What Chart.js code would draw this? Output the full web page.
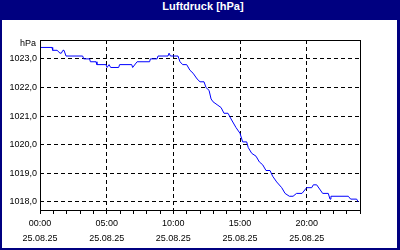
<!DOCTYPE html>
<html>
<head>
<meta charset="utf-8">
<title>Luftdruck [hPa]</title>
<script src="https://cdn.jsdelivr.net/npm/chart.js@4/dist/chart.umd.min.js"></script>
<style>
    html, body { margin: 0; padding: 0; background: #fff; }
    #frame { position: relative; width: 400px; height: 250px; background: #000080; overflow: hidden; }
    #title { position: absolute; left: 3px; top: 0; width: 400px; height: 20px; line-height: 18px;
             text-align: center; color: #fff; font: bold 11px "Liberation Sans", Arial, sans-serif; }
    #panel { position: absolute; left: 2px; top: 20px; right: 3px; bottom: 2px; background: #fff; }
    #chart { position: absolute; left: 0; top: 0; }
</style>
</head>
<body>
<div id="frame">
    <div id="title">Luftdruck [hPa]</div>
    <div id="panel"></div>
    <canvas id="chart" width="400" height="250"></canvas>
</div>
<script>
// Measurement times (hours since 25.08.25 00:00) and air pressure in hPa
const hours = [
    0, 0.9, 0.95, 1.28, 1.5, 1.6, 1.72, 1.8, 1.95, 3.2,
    3.28, 3.72, 3.78, 4.2, 4.27, 4.95, 5.03, 5.18, 5.3, 5.9,
    5.97, 6.88, 6.95, 7.28, 8.22, 8.28, 8.78, 8.85, 9.6, 9.68,
    9.78, 10.35, 10.5, 10.7, 11.0, 11.25, 11.48, 11.78, 12.0, 12.3,
    12.45, 12.68, 12.83, 12.98, 13.28, 13.58, 13.8, 14.1, 14.33, 14.7,
    15.0, 15.2, 15.5, 15.62, 15.88, 16.2, 16.45, 16.7, 16.95, 17.25,
    17.45, 17.75, 18.13, 18.38, 18.7, 18.98, 19.24, 19.65, 20.0, 20.38,
    20.5, 20.75, 21.2, 21.62, 21.75, 21.82, 23.12, 23.3, 23.75, 23.87, 23.9
];
const pressure = [
    1023.4, 1023.4, 1023.3, 1023.3, 1023.2, 1023.2, 1023.3, 1023.3, 1023.1, 1023.1,
    1023.0, 1023.0, 1022.9, 1022.9, 1022.8, 1022.8, 1022.7, 1022.8, 1022.7, 1022.7,
    1022.8, 1022.8, 1022.7, 1022.9, 1022.9, 1023.0, 1023.0, 1023.1, 1023.1, 1023.2,
    1023.1, 1023.1, 1022.9, 1022.8, 1022.8, 1022.6, 1022.5, 1022.3, 1022.2, 1022.2,
    1022.0, 1021.9, 1021.6, 1021.5, 1021.4, 1021.3, 1021.1, 1021.1, 1020.9, 1020.6,
    1020.4, 1020.1, 1020.1, 1019.9, 1019.7, 1019.6, 1019.4, 1019.3, 1019.1, 1019.1,
    1018.9, 1018.7, 1018.5, 1018.3, 1018.2, 1018.2, 1018.3, 1018.3, 1018.5, 1018.5,
    1018.6, 1018.6, 1018.3, 1018.3, 1018.1, 1018.2, 1018.2, 1018.1, 1018.1, 1018.0, 1018.0
];

const yTicks = [1018, 1019, 1020, 1021, 1022, 1023];
const hourTicks = [0, 1, 2, 3, 4, 5, 6, 7, 8, 9, 10, 11, 12, 13, 14, 15, 16, 17, 18, 19, 20, 21, 22, 23, 24];
const labelHours = [0, 5, 10, 15, 20];
const dateLabel = '25.08.25';
const unitLabel = 'hPa';

const labelFont = { family: '"Liberation Sans", Arial, sans-serif', size: 9 };

// black frame round the plot and the unit above the y axis
const plotFrame = {
    id: 'plotFrame',
    afterDatasetsDraw(chart) {
        const { ctx, chartArea: a } = chart;
        ctx.save();
        ctx.strokeStyle = '#000';
        ctx.lineWidth = 1;
        ctx.strokeRect(Math.round(a.left) + 0.5, Math.round(a.top) + 0.5,
            Math.round(a.right - a.left), Math.round(a.bottom - a.top));
        ctx.font = '9px "Liberation Sans", Arial, sans-serif';
        ctx.fillStyle = '#000';
        ctx.textAlign = 'right';
        ctx.textBaseline = 'middle';
        ctx.fillText(unitLabel, a.left - 4, a.top + 4);
        ctx.restore();
    }
};

const pad2 = n => (n < 10 ? '0' : '') + n;

new Chart(document.getElementById('chart').getContext('2d'), {
    type: 'line',
    data: {
        datasets: [{
            label: 'Luftdruck',
            data: hours.map((h, i) => ({ x: h, y: pressure[i] })),
            borderColor: '#0000ff',
            borderWidth: 1,
            pointRadius: 0,
            tension: 0,
            fill: false
        }]
    },
    options: {
        responsive: false,
        animation: false,
        events: [],
        layout: { padding: { left: 0, top: 40, right: 40, bottom: 0 } },
        plugins: {
            legend: { display: false },
            title: { display: false },
            tooltip: { enabled: false }
        },
        scales: {
            x: {
                type: 'linear',
                min: 0,
                max: 24,
                afterBuildTicks: s => { s.ticks = hourTicks.map(v => ({ value: v })); },
                afterFit: s => { s.height = 40; },
                border: { display: false, dash: [4, 3] },
                grid: {
                    color: c => (c.tick && labelHours.includes(c.tick.value) && c.tick.value > 0) ? '#000' : 'rgba(0,0,0,0)',
                    lineWidth: 1,
                    drawTicks: true,
                    tickLength: 4,
                    tickColor: '#000',
                    tickBorderDash: []
                },
                ticks: {
                    autoSkip: false,
                    maxRotation: 0,
                    padding: 2,
                    color: '#000',
                    font: Object.assign({ lineHeight: 15 / 9 }, labelFont),
                    callback: v => labelHours.includes(v) ? [pad2(v) + ':00', dateLabel] : ''
                }
            },
            y: {
                min: 1017.72,
                max: 1023.66,
                afterBuildTicks: s => { s.ticks = yTicks.map(v => ({ value: v })); },
                afterFit: s => { s.width = 40; },
                border: { display: false, dash: [4, 3] },
                grid: { color: '#000', lineWidth: 1, drawTicks: false },
                ticks: {
                    padding: 3,
                    color: '#000',
                    font: labelFont,
                    callback: v => v.toFixed(1).replace('.', ',')
                }
            }
        }
    },
    plugins: [plotFrame]
});
</script>
</body>
</html>
